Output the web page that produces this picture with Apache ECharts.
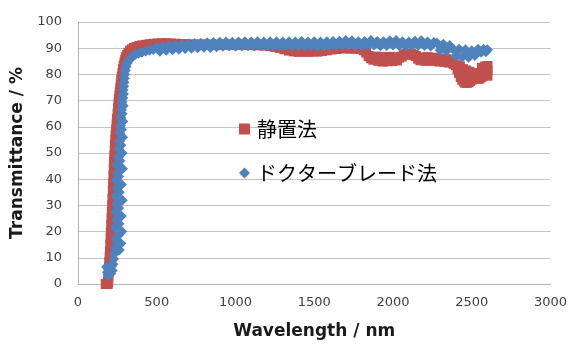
<!DOCTYPE html>
<html>
<head>
<meta charset="utf-8">
<script src="https://cdn.jsdelivr.net/npm/echarts@6/dist/echarts.min.js"></script>
<style>
  html, body { margin: 0; padding: 0; background: #ffffff; }
  #chart { width: 570px; height: 345px; }
</style>
</head>
<body>
<div id="chart"></div>
<script>
// Series names (legend text)
const seriesNames = ['静置法', 'ドクターブレード法'];

// Axis ticks
const xTicks = { min: 0, max: 3000, step: 500 };
const yTicks = { min: 0, max: 100, step: 10 };

// 静置法: [wavelength nm, transmittance %]
const seikiEdge = [
  [176,0],[180,0],[184,0],[188,0],[191,0.8],[193,2.5],[195,4.5],[197,6.5],[199,8.5],[201,10.5],
  [203,12.5],[205,15],[207,17.5],[209,20],[211,22.5],[213,25],[215,27.5],[217,30],[219,32.5],
  [221,35.5],[223,38.5],[225,41.5],[227,44],[229,46.5],[231,49],[233,51],[235,53],[237,55],
  [239,57],[242,59],[245,61],[248,63],[251,65],[254,67],[257,69],[260,70.5],[263,72],[266,73.5],
  [269,75],[272,76.5],[275,78],[278,79.2],[282,80.6],[286,82],[290,83.3],[295,84.5],[300,85.6],
  [306,86.6],[312,87.4],[320,88.2],[330,89],[342,89.6],[356,90.1],[372,90.5],[390,90.8],
  [410,91.1],[432,91.3],[455,91.5],[480,91.7],[505,91.8],[530,91.9],[560,91.9],[590,91.8]
];
const seikiPlateau = [
  [620,91.7],[650,91.5],[680,91.6],[710,91.3],[740,91.5],[770,91.2],[800,91.5],[830,91.3],
  [860,91.4],[890,91.2],[920,91.5],[950,91.3],[980,91.4],[1010,91.2],[1040,91.4],[1070,91.2],
  [1100,91.3],[1130,91.1],[1160,91.2],[1190,91],[1220,90.8],[1250,90.5],[1280,90.1],
  [1310,89.6],[1340,89.1],[1370,88.8],[1400,88.6],[1430,88.8],[1460,88.6],[1490,88.8],
  [1520,88.7],[1550,88.9],[1580,89.2],[1610,89.5],[1640,89.7],[1670,89.9],[1700,90],
  [1730,89.8],[1760,89.9],[1790,89.7],[1815,89.2]
];
const seikiNir = [
  [1830,88.3],[1845,87],[1860,86.2],[1875,85.6],[1890,86.8],[1905,85.2],[1920,86.5],[1935,84.9],
  [1950,86.6],[1965,85],[1980,86.7],[1995,85.1],[2010,86.5],[2025,85.3],[2040,86.4],[2055,86.8],
  [2070,87.5],[2085,87.8],[2100,87.6],[2115,87.9],[2130,87.5],[2145,87],[2160,86],[2175,85.4],
  [2190,86.5],[2205,85.2],[2220,86.6],[2235,85.3],[2250,86.4],[2265,85.2],[2280,86.2],[2295,84.9],
  [2310,86],[2325,84.8],[2340,85.8],[2355,84.5],[2370,85.2],[2385,84],[2400,83.5],[2410,82],
  [2420,80.5],[2425,83],[2430,79],[2440,78],[2445,82],[2450,77.3],[2460,76.8],[2465,81.5],
  [2470,76.8],[2480,77],[2485,81],[2490,77.5],[2500,78],[2505,80.5],[2510,78.5],[2520,79.5],
  [2530,79],[2540,78.3],[2550,78.5],[2560,79],[2565,82.5],[2570,79.5],[2580,80],[2585,83],
  [2590,80.5],[2595,82.5],[2600,79.5],[2600,81.5],[2600,83.2]
];

// ドクターブレード法: [wavelength nm, transmittance %]
const bladeEdge = [
  [182,6.5],[187,4.5],[192,3.2],[197,3.8],[202,5.5],[207,4],[212,6.8],[217,5.2],[222,7.5],
  [226,9.5],[230,11.5],[262,13],[236,14],[272,15.5],[240,17],[255,18.5],[278,20],[234,21.5],
  [260,23],[244,24.5],[275,26],[236,27.5],[258,29],[246,30.5],[281,32],[238,33.5],[262,35],
  [248,36.5],[276,38],[240,39.5],[258,41],[250,42.5],[282,44],[246,45.5],[266,47],[256,48.5],
  [280,50],[258,51.5],[272,53],[263,54.5],[283,56],[266,57.5],[276,59],[270,60.5],[285,62],
  [272,63.5],[280,65],[276,66.5],[287,68],[279,69.5],[284,71],[288,72.5],[286,74],[290,75.5],
  [292,77],[294,78.5],[296,80],[300,81.5],[305,83],[312,84.3],[322,85.3],[334,86.2],[348,87],
  [364,87.6],[384,88.1],[406,88.5],[430,88.9],[455,89.2],[478,89.5]
];
const bladePlateau = [
  [500,90.4],[520,88.8],[540,90.6],[560,89.2],[580,90.9],[600,89.4],[620,91.1],[640,89.6],
  [660,91.3],[680,89.9],[700,91.6],[720,90],[740,91.8],[760,90.2],[780,91.9],[800,90.4],
  [820,92.1],[840,90.3],[860,92.2],[880,90.6],[900,92.3],[920,90.7],[940,92.4],[960,90.8],
  [980,92.3],[1000,90.7],[1020,92.4],[1040,90.8],[1060,92.5],[1080,90.9],[1100,92.4],[1120,90.8],
  [1140,92.5],[1160,90.9],[1180,92.4],[1200,90.8],[1220,92.5],[1240,90.9],[1260,92.5],[1280,90.8],
  [1300,92.4],[1320,90.9],[1340,92.5],[1360,90.8],[1380,92.4],[1400,90.9],[1420,92.6],[1440,90.8],
  [1460,92.4],[1480,90.9],[1500,92.5],[1520,90.7],[1540,92.4],[1560,90.8],[1580,92.5],[1600,90.9],
  [1620,92.6],[1640,91],[1660,92.7],[1680,91.1],[1700,92.9],[1720,91.2],[1740,92.8],[1760,91],
  [1780,92.5],[1800,90.9],[1820,92.6],[1840,91.1],[1860,92.9],[1880,91.2],[1900,92.6],[1920,90.9],
  [1940,92.5],[1960,91],[1980,92.8],[2000,91.2],[2020,92.9],[2040,91],[2060,92.5],[2080,90.9],
  [2100,92.4],[2120,91],[2140,92.7],[2160,91.1],[2180,92.8],[2200,91],[2220,92.4],[2240,90.8],
  [2260,92.2]
];
const bladeNir = [
  [2280,91.9],[2300,89.2],[2320,91.5],[2340,88.9],[2360,91],[2380,89.8],[2400,87],[2420,89.6],
  [2440,86.6],[2460,89.4],[2480,86.5],[2500,89],[2520,87.2],[2540,89.6],[2560,88.5],[2575,89.6],
  [2590,88.6],[2600,89.4]
];

const seikiData = seikiEdge.concat(seikiPlateau, seikiNir);
const bladeData = bladeEdge.concat(bladePlateau, bladeNir);

const chart = echarts.init(document.getElementById('chart'));

const tickFont = { fontFamily: 'DejaVu Sans', fontSize: 13, color: '#404040' };
const titleFont = { fontFamily: 'DejaVu Sans', fontSize: 17, fontWeight: 'bold', color: '#1a1a1a' };
const plainNumber = (v) => String(v);

chart.setOption({
  animation: false,
  backgroundColor: '#ffffff',
  grid: { left: 78, right: 18, top: 22, bottom: 60, containLabel: false },
  legend: {
    orient: 'vertical',
    left: 234,
    top: 114,
    itemWidth: 11,
    itemHeight: 11,
    itemGap: 24,
    textStyle: { fontFamily: 'Noto Sans CJK JP', fontSize: 20, color: '#000000', padding: [0, 0, 0, 2] },
    data: [
      { name: seriesNames[0], icon: 'rect' },
      { name: seriesNames[1], icon: 'diamond' }
    ]
  },
  xAxis: {
    type: 'value',
    min: xTicks.min,
    max: xTicks.max,
    interval: xTicks.step,
    name: 'Wavelength / nm',
    nameLocation: 'middle',
    nameGap: 39,
    nameTextStyle: titleFont,
    axisLine: { show: true, lineStyle: { color: '#b4b4b4', width: 1 } },
    axisTick: { show: false },
    axisLabel: Object.assign({ margin: 12, formatter: plainNumber }, tickFont),
    splitLine: { show: false }
  },
  yAxis: {
    type: 'value',
    min: yTicks.min,
    max: yTicks.max,
    interval: yTicks.step,
    name: 'Transmittance / %',
    nameLocation: 'middle',
    nameRotate: 90,
    nameGap: 49,
    nameTextStyle: titleFont,
    axisLine: { show: true, lineStyle: { color: '#b4b4b4', width: 1 } },
    axisTick: { show: false },
    axisLabel: Object.assign({ margin: 16, formatter: plainNumber }, tickFont),
    splitLine: { show: true, lineStyle: { color: '#c4c4c4', width: 1 } }
  },
  series: [
    {
      name: seriesNames[0],
      type: 'scatter',
      symbol: 'rect',
      symbolSize: 10,
      itemStyle: { color: '#C0504D', opacity: 1 },
      data: seikiData,
      z: 2
    },
    {
      name: seriesNames[1],
      type: 'scatter',
      symbol: 'diamond',
      symbolSize: 11,
      itemStyle: { color: '#4F81BD', opacity: 1 },
      data: bladeData,
      z: 3
    }
  ]
});
</script>
</body>
</html>
